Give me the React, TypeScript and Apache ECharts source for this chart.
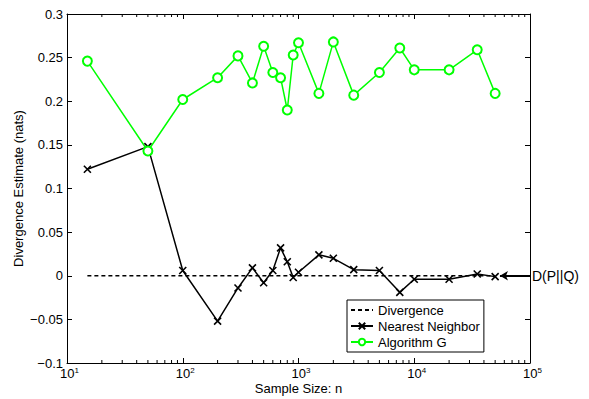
import React, { useEffect, useRef } from 'react';
import * as echarts from 'echarts';

const sampleSizes = [15, 50, 100, 200, 300, 400, 500, 600, 700, 800, 900, 1000, 1500, 2000, 3000, 5000, 7500, 10000, 20000, 35000, 50000];
const nearestNeighbor = [0.122, 0.148, 0.006, -0.052, -0.014, 0.009, -0.008, 0.006, 0.032, 0.016, -0.002, 0.004, 0.024, 0.020, 0.007, 0.006, -0.019, -0.004, -0.004, 0.002, -0.001];
const algorithmG = [0.246, 0.143, 0.202, 0.227, 0.252, 0.221, 0.263, 0.233, 0.227, 0.19, 0.253, 0.267, 0.209, 0.268, 0.207, 0.233, 0.261, 0.236, 0.236, 0.259, 0.209];
const divergenceX = [15, 50000];
const divergenceY = [0, 0];
const arrowFrom = 55000;
const arrowTo = 100000;
const arrowLabel = 'D(P||Q)';
const legendNames = ['Divergence', 'Nearest Neighbor', 'Algorithm G'];
const xAxisName = 'Sample Size: n';
const yAxisName = 'Divergence Estimate (nats)';
const yMin = -0.1;
const yMax = 0.3;
const yStep = 0.05;
const xMin = 10;
const xMax = 100000;

const minorTicks: number[] = [];
for (let d = xMin; d < xMax; d *= 10) {
  for (let k = 2; k <= 9; k++) minorTicks.push(k * d);
}

const FONT = "'Liberation Sans', Arial, Helvetica, sans-serif";

export default function App() {
  const ref = useRef<HTMLDivElement>(null);
  useEffect(() => {
    document.body.style.margin = '0';
    const chart = echarts.init(ref.current!, null, { renderer: 'svg' });
    const fmtY = (v: number) => {
      const s = String(Math.round(v * 100) / 100);
      return s.startsWith('-') ? '\u2212' + s.slice(1) : s;
    };
    const option: any = {
      animation: false,
      backgroundColor: '#fff',
      textStyle: { fontFamily: FONT, color: '#000' },
      grid: { left: 67, right: 59, top: 14, bottom: 36, containLabel: false, outerBoundsMode: 'none' },
      legend: {
        data: [
          { name: legendNames[0], itemStyle: { opacity: 0 } },
          { name: legendNames[1] },
          { name: legendNames[2] },
        ],
        orient: 'vertical',
        left: 347,
        top: 300,
        itemWidth: 22,
        itemHeight: 8,
        itemGap: 0,
        padding: [2, 4, 2, 3],
        borderColor: '#000',
        borderWidth: 1,
        backgroundColor: '#fff',
        textStyle: { fontSize: 13, color: '#000', fontFamily: FONT, lineHeight: 16 },
        selectedMode: false,
      },
      xAxis: [
        {
          type: 'log',
          logBase: 10,
          min: xMin,
          max: xMax,
          splitNumber: 4,
          name: xAxisName,
          nameLocation: 'middle',
          nameGap: 19,
          nameMoveOverlap: false,
          nameTextStyle: { fontSize: 13, color: '#000', fontFamily: FONT, verticalAlign: 'top', lineHeight: 13 },
          axisLine: { show: true, onZero: false, lineStyle: { color: '#000', width: 1 } },
          axisTick: { show: true, inside: true, length: 5, lineStyle: { color: '#000' } },
          splitLine: { show: false },
          axisLabel: {
            margin: 3,
            formatter: (v: number) => `{b|10}{s|${Math.round(Math.log10(v))}}`,
            rich: {
              b: { fontSize: 13, lineHeight: 12, color: '#000', fontFamily: FONT, padding: [3, 0, 0, 5] },
              s: { fontSize: 8, lineHeight: 8, color: '#000', fontFamily: FONT, verticalAlign: 'top' },
            },
          },
        },
        {
          type: 'log',
          logBase: 10,
          min: xMin,
          max: xMax,
          splitNumber: 4,
          position: 'top',
          axisLine: { show: true, onZero: false, lineStyle: { color: '#000', width: 1 } },
          axisTick: { show: true, inside: true, length: 5, lineStyle: { color: '#000' } },
          axisLabel: { show: false },
          splitLine: { show: false },
        },
      ],
      yAxis: [
        {
          type: 'value',
          min: yMin,
          max: yMax,
          interval: yStep,
          name: yAxisName,
          nameLocation: 'middle',
          nameGap: 42,
          nameMoveOverlap: false,
          nameTextStyle: { fontSize: 13, color: '#000', fontFamily: FONT },
          axisLine: { show: true, onZero: false, lineStyle: { color: '#000', width: 1 } },
          axisTick: { show: true, inside: true, length: 5, lineStyle: { color: '#000' } },
          splitLine: { show: false },
          axisLabel: { fontSize: 13, color: '#000', margin: 4, fontFamily: FONT, formatter: fmtY },
        },
        {
          type: 'value',
          min: yMin,
          max: yMax,
          interval: yStep,
          position: 'right',
          axisLine: { show: true, onZero: false, lineStyle: { color: '#000', width: 1 } },
          axisTick: { show: true, inside: true, length: 5, lineStyle: { color: '#000' } },
          axisLabel: { show: false },
          splitLine: { show: false },
        },
      ],
      series: [
        {
          type: 'custom',
          name: 'minorTicks',
          silent: true,
          clip: false,
          data: minorTicks.map((v) => [v, 0]),
          renderItem: (params: any, api: any) => {
            const v = api.value(0);
            const top = api.coord([v, yMax]);
            const bot = api.coord([v, yMin]);
            return {
              type: 'group',
              children: [
                { type: 'line', shape: { x1: bot[0], y1: bot[1], x2: bot[0], y2: bot[1] - 3 }, style: { stroke: '#000', lineWidth: 1 } },
                { type: 'line', shape: { x1: top[0], y1: top[1], x2: top[0], y2: top[1] + 3 }, style: { stroke: '#000', lineWidth: 1 } },
              ],
            };
          },
        },
        {
          type: 'line',
          name: legendNames[0],
          data: divergenceX.map((x, i) => [x, divergenceY[i]]),
          symbol: 'none',
          color: '#000',
          lineStyle: { color: '#000', width: 1.5, type: [4, 3] },
          markLine: {
            silent: true,
            symbol: ['arrow', 'none'],
            symbolSize: [7, 8],
            lineStyle: { color: '#000', width: 2, type: 'solid' },
            label: {
              show: true,
              position: 'end',
              distance: 2,
              formatter: arrowLabel,
              color: '#000',
              fontSize: 14,
              fontFamily: FONT,
            },
            data: [[{ coord: [arrowFrom, 0] }, { coord: [arrowTo, 0] }]],
          },
        },
        {
          type: 'line',
          name: legendNames[1],
          data: sampleSizes.map((x, i) => [x, nearestNeighbor[i]]),
          symbol: 'path://M0,0L10,10M10,0L0,10',
          symbolSize: 7,
          color: '#000',
          lineStyle: { color: '#000', width: 1.5 },
          itemStyle: { color: '#000', borderColor: '#000', borderWidth: 1.6 },
        },
        {
          type: 'line',
          name: legendNames[2],
          data: sampleSizes.map((x, i) => [x, algorithmG[i]]),
          symbol: 'emptyCircle',
          symbolSize: 9,
          color: '#00ff00',
          lineStyle: { color: '#00ff00', width: 1.5 },
          itemStyle: { color: '#00ff00', borderColor: '#00ff00', borderWidth: 1.5 },
        },
      ],
    };
    chart.setOption(option);
    return () => chart.dispose();
  }, []);
  return <div ref={ref} style={{ width: 589, height: 399 }} />;
}
